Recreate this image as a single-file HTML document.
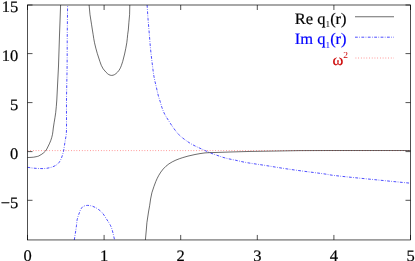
<!DOCTYPE html>
<html><head><meta charset="utf-8"><style>
html,body{margin:0;padding:0;background:#fff;}
svg{display:block;font-family:"Liberation Serif",serif;font-size:16px;text-rendering:geometricPrecision;}
</style></head><body>
<svg width="415" height="261" viewBox="0 0 415 261">
<rect width="415" height="261" fill="#fff"/>
<g fill="none" stroke="#f00" stroke-width="0.5" stroke-dasharray="0.8 1.92">
<path d="M27.5,150.6 H410.5"/>
<path d="M355.5,58 H394"/>
</g>
<g fill="none" stroke="#00f" stroke-width="0.7" stroke-dasharray="2.8 1.4 0.7 1.5">
<path d="M27.50,167.30 C29.10,167.53 30.69,167.83 32.30,168.00 C34.43,168.23 36.56,168.42 38.70,168.50 C40.80,168.58 42.92,168.70 45.00,168.50 C47.12,168.30 49.26,167.89 51.30,167.30 C52.83,166.86 54.35,166.22 55.70,165.40 C56.88,164.69 58.05,163.78 58.90,162.70 C59.95,161.38 60.72,159.77 61.40,158.20 C62.09,156.60 62.50,154.88 63.00,153.20 C63.23,152.41 63.44,151.61 63.60,150.80 C63.84,149.54 64.00,148.27 64.20,147.00 C64.53,144.90 64.86,142.80 65.20,140.70 C65.54,138.57 66.03,136.45 66.25,134.30 C66.46,132.21 66.48,130.10 66.50,128.00 C66.57,118.67 66.41,109.33 66.50,100.00 C66.61,88.67 66.97,77.33 67.10,66.00 C67.22,55.67 67.17,45.33 67.25,35.00 C67.33,25.00 67.48,15.00 67.60,5.00"/>
<path d="M74.30,239.95 C74.82,236.63 75.35,233.32 75.85,230.00 C76.08,228.44 76.30,226.87 76.50,225.30 C76.75,223.37 76.77,221.39 77.20,219.50 C77.73,217.19 78.60,214.94 79.40,212.70 C79.86,211.41 80.28,210.05 81.00,208.90 C81.62,207.91 82.41,206.83 83.40,206.30 C84.61,205.66 86.19,205.40 87.60,205.40 C89.29,205.40 91.09,205.74 92.70,206.30 C94.45,206.91 96.15,207.86 97.70,208.90 C99.32,209.99 100.93,211.22 102.20,212.70 C103.97,214.76 105.31,217.21 106.80,219.50 C108.04,221.41 109.36,223.29 110.40,225.30 C111.16,226.79 111.74,228.39 112.20,230.00 C113.14,233.27 113.80,236.63 114.60,239.95"/>
<path d="M147.10,5.00 C147.40,9.50 147.66,14.00 148.00,18.50 C148.39,23.67 148.87,28.83 149.30,34.00 C149.73,39.17 150.08,44.34 150.60,49.50 C151.12,54.67 151.75,59.84 152.40,65.00 C152.89,68.91 153.32,72.83 154.00,76.70 C154.60,80.09 155.48,83.44 156.25,86.80 C156.95,89.87 157.59,92.96 158.40,96.00 C158.88,97.79 159.55,99.53 160.10,101.30 C160.75,103.43 161.26,105.61 162.00,107.70 C162.76,109.84 163.57,111.98 164.60,114.00 C165.71,116.18 167.09,118.23 168.40,120.30 C169.83,122.56 171.23,124.84 172.80,127.00 C174.73,129.64 176.62,132.37 178.90,134.70 C180.99,136.84 183.47,138.63 185.90,140.40 C188.10,142.00 190.40,143.51 192.80,144.80 C196.10,146.58 199.59,148.03 203.00,149.60 C205.52,150.76 208.04,151.93 210.60,153.00 C212.04,153.60 213.52,154.10 215.00,154.60 C218.41,155.76 221.78,157.05 225.25,158.00 C228.58,158.92 232.02,159.46 235.40,160.20 C238.77,160.93 242.11,161.77 245.50,162.40 C249.31,163.11 253.17,163.61 257.00,164.20 C259.67,164.61 262.34,164.98 265.00,165.40 C271.67,166.45 278.32,167.59 285.00,168.60 C290.66,169.46 296.33,170.23 302.00,171.00 C309.66,172.03 317.34,172.93 325.00,174.00 C327.34,174.33 329.65,174.90 332.00,175.20 C338.65,176.04 345.33,176.70 352.00,177.40 C358.66,178.10 365.33,178.73 372.00,179.40 C378.67,180.07 385.33,180.74 392.00,181.40 C398.17,182.01 404.33,182.60 410.50,183.20"/>
<path d="M355,37.2 H394"/>
</g>
<g fill="none" stroke="#000" stroke-width="0.68">
<rect x="27.5" y="5.0" width="383.0" height="234.95"/>
<path d="M27.5,239.95 V234.95 M27.5,5.0 V10.0"/>
<path d="M104.1,239.95 V234.95 M104.1,5.0 V10.0"/>
<path d="M180.7,239.95 V234.95 M180.7,5.0 V10.0"/>
<path d="M257.3,239.95 V234.95 M257.3,5.0 V10.0"/>
<path d="M333.9,239.95 V234.95 M333.9,5.0 V10.0"/>
<path d="M410.5,239.95 V234.95 M410.5,5.0 V10.0"/>
<path d="M27.5,5.0 H32.5 M410.5,5.0 H405.5"/>
<path d="M27.5,53.6 H32.5 M410.5,53.6 H405.5"/>
<path d="M27.5,102.6 H32.5 M410.5,102.6 H405.5"/>
<path d="M27.5,151.6 H32.5 M410.5,151.6 H405.5"/>
<path d="M27.5,200.3 H32.5 M410.5,200.3 H405.5"/>
</g>
<g fill="none" stroke="#000" stroke-width="0.58">
<path d="M27.50,157.50 C28.33,157.48 29.17,157.49 30.00,157.45 C31.20,157.39 32.41,157.35 33.60,157.20 C34.44,157.10 35.27,156.89 36.10,156.70 C36.97,156.49 37.89,156.36 38.70,156.00 C39.79,155.52 40.84,154.91 41.80,154.20 C43.14,153.21 44.54,152.17 45.60,150.90 C46.54,149.77 47.13,148.33 47.80,147.00 C48.83,144.93 49.90,142.86 50.70,140.70 C51.47,138.63 52.06,136.47 52.50,134.30 C52.92,132.23 53.01,130.10 53.30,128.00 C53.54,126.26 53.83,124.53 54.10,122.80 C54.63,119.43 55.30,116.08 55.70,112.70 C56.20,108.48 56.50,104.24 56.80,100.00 C57.03,96.67 57.13,93.33 57.30,90.00 C57.70,82.00 58.18,74.00 58.50,66.00 C58.91,55.67 59.14,45.33 59.50,35.00 C59.84,25.00 60.23,15.00 60.60,5.00"/>
<path d="M89.10,5.00 C89.40,8.23 89.59,11.48 90.00,14.70 C90.43,18.08 91.07,21.43 91.60,24.80 C91.87,26.53 92.13,28.27 92.40,30.00 C92.63,31.43 92.86,32.87 93.10,34.30 C93.56,37.10 93.89,39.93 94.50,42.70 C95.29,46.33 96.27,49.93 97.30,53.50 C98.07,56.19 99.01,58.84 99.90,61.50 C100.34,62.81 100.74,64.14 101.30,65.40 C101.84,66.61 102.45,67.82 103.20,68.90 C104.05,70.12 105.06,71.24 106.10,72.30 C106.93,73.14 107.79,74.03 108.80,74.60 C109.63,75.07 110.66,75.38 111.60,75.40 C112.53,75.42 113.57,75.14 114.40,74.70 C115.50,74.11 116.53,73.22 117.40,72.30 C118.36,71.29 119.20,70.11 119.90,68.90 C120.53,67.81 120.95,66.59 121.40,65.40 C121.88,64.12 122.33,62.82 122.70,61.50 C123.40,59.02 124.05,56.52 124.60,54.00 C125.42,50.25 126.20,46.49 126.80,42.70 C127.24,39.92 127.37,37.10 127.70,34.30 C127.87,32.86 128.16,31.44 128.30,30.00 C128.56,27.44 128.68,24.87 128.90,22.30 C129.12,19.77 129.47,17.24 129.60,14.70 C129.77,11.47 129.73,8.23 129.80,5.00"/>
<path d="M145.40,239.95 C145.73,236.30 146.08,232.65 146.40,229.00 C146.58,226.90 146.64,224.79 146.90,222.70 C147.34,219.12 147.93,215.56 148.50,212.00 C148.86,209.76 149.34,207.54 149.70,205.30 C150.04,203.21 150.24,201.09 150.60,199.00 C150.97,196.89 151.35,194.77 151.90,192.70 C152.48,190.53 153.26,188.42 154.00,186.30 C154.56,184.69 155.12,183.06 155.80,181.50 C156.72,179.40 157.63,177.27 158.80,175.30 C160.10,173.10 161.51,170.90 163.20,169.00 C164.88,167.10 166.83,165.35 168.90,163.90 C171.06,162.39 173.49,161.19 175.90,160.10 C178.12,159.09 180.48,158.37 182.80,157.60 C184.51,157.03 186.25,156.54 188.00,156.10 C190.32,155.51 192.65,154.94 195.00,154.50 C198.32,153.88 201.65,153.24 205.00,152.90 C208.31,152.57 211.67,152.62 215.00,152.50 C220.00,152.32 225.00,152.15 230.00,152.00 C236.67,151.80 243.33,151.59 250.00,151.45 C259.00,151.26 268.00,151.15 277.00,151.00 C284.67,150.87 292.33,150.67 300.00,150.60 C310.00,150.51 320.00,150.51 330.00,150.50 C356.83,150.48 383.67,150.50 410.50,150.50"/>
<path d="M355,16.75 H394"/>
</g>
<g fill="#000" stroke="#000" stroke-width="0.2" style="opacity:0.999">
<text transform="translate(27.5,260.7) scale(1.03,1)" text-anchor="middle">0</text>
<text transform="translate(104.1,260.7) scale(1.03,1)" text-anchor="middle">1</text>
<text transform="translate(180.7,260.7) scale(1.03,1)" text-anchor="middle">2</text>
<text transform="translate(257.3,260.7) scale(1.03,1)" text-anchor="middle">3</text>
<text transform="translate(333.9,260.7) scale(1.03,1)" text-anchor="middle">4</text>
<text transform="translate(410.5,260.7) scale(1.03,1)" text-anchor="middle">5</text>
<text transform="translate(18.3,12) scale(1.03,1)" text-anchor="end">15</text>
<text transform="translate(18.3,61) scale(1.03,1)" text-anchor="end">10</text>
<text transform="translate(18.3,110) scale(1.03,1)" text-anchor="end">5</text>
<text transform="translate(18.3,159) scale(1.03,1)" text-anchor="end">0</text>
<text transform="translate(18.3,208) scale(1.03,1)" text-anchor="end">−5</text>
<text transform="translate(346.6,23.8) scale(1.03,1)" text-anchor="end">Re q<tspan font-size="9" stroke="none" dy="3.5">1</tspan><tspan dy="-3.5">(r)</tspan></text>
<text transform="translate(346.6,44.0) scale(1.03,1)" text-anchor="end" fill="#00f" stroke="#00f">Im q<tspan font-size="9" stroke="none" dy="3.5">1</tspan><tspan dy="-3.5">(r)</tspan></text>
<text transform="translate(348.1,65) scale(1.03,1)" text-anchor="end" fill="#c00" stroke="#c00">ω<tspan font-size="9.2" stroke="none" dy="-6.7">2</tspan></text>
</g>
</svg>
</body></html>
